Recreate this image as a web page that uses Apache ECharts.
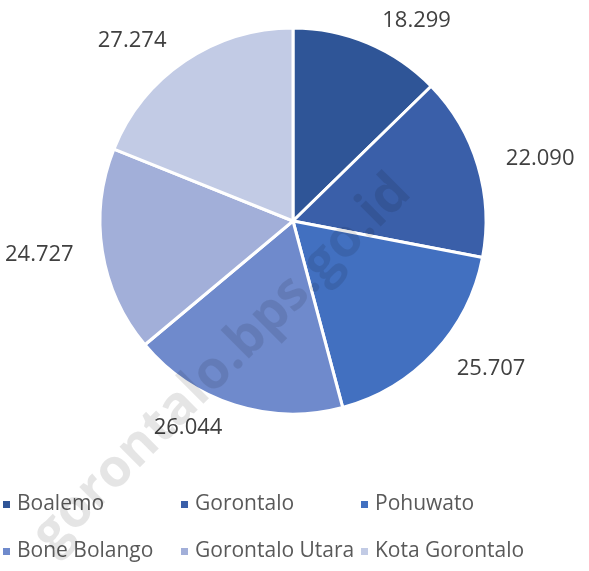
<!DOCTYPE html>
<html>
<head>
<meta charset="utf-8">
<script src="https://cdn.jsdelivr.net/npm/echarts@6/dist/echarts.min.js"></script>
<style>
  html, body { margin: 0; padding: 0; background: #fff; }
  #main { width: 589px; height: 571px; }
</style>
</head>
<body>
<div id="main"></div>
<script>
// kabupaten / kota
const regions = ['Boalemo', 'Gorontalo', 'Pohuwato', 'Bone Bolango', 'Gorontalo Utara', 'Kota Gorontalo'];
const values = [18.299, 22.090, 25.707, 26.044, 24.727, 27.274];
const colors = ['#2F5597', '#3A5FA9', '#4270C0', '#6F8ACC', '#A2AFD9', '#C2CBE5'];

const chart = echarts.init(document.getElementById('main'));

const fmt = v => v.toFixed(3);

// legend laid out in 3 columns, 2 rows
const legendCols = [
  { left: 1, data: [regions[0], regions[3]] },
  { left: 179, data: [regions[1], regions[4]] },
  { left: 359, data: [regions[2], regions[5]] }
];

chart.setOption({
  animation: false,
  color: colors,
  legend: legendCols.map(c => ({
    orient: 'vertical',
    left: c.left,
    top: 493,
    padding: 0,
    itemGap: 24,
    itemWidth: 9,
    itemHeight: 9,
    icon: 'rect',
    selectedMode: false,
    data: c.data,
    textStyle: { color: '#595959', fontSize: 21, fontFamily: 'Open Sans', lineHeight: 23, padding: [0, 0, 0, 1] }
  })),
  series: [{
    type: 'pie',
    center: [293, 221],
    radius: 193,
    startAngle: 90,
    clockwise: true,
    data: regions.map((r, i) => ({ name: r, value: values[i] })),
    itemStyle: { borderColor: '#fff', borderWidth: 3 },
    label: {
      position: 'outside',
      formatter: p => fmt(p.value),
      color: '#404040',
      fontSize: 22,
      fontFamily: 'Open Sans',
      overflow: 'none'
    },
    labelLine: { show: false, length: 24, length2: 0 },
    emphasis: { disabled: true }
  }],
  graphic: [{
    type: 'text',
    x: 222,
    y: 364,
    rotation: Math.PI / 4,
    z: 100,
    style: {
      text: 'gorontalo.bps.go.id',
      fill: 'rgba(0,0,0,0.1)',
      font: 'bold 53px "Open Sans"',
      align: 'center',
      verticalAlign: 'middle'
    }
  }]
});
</script>
</body>
</html>
